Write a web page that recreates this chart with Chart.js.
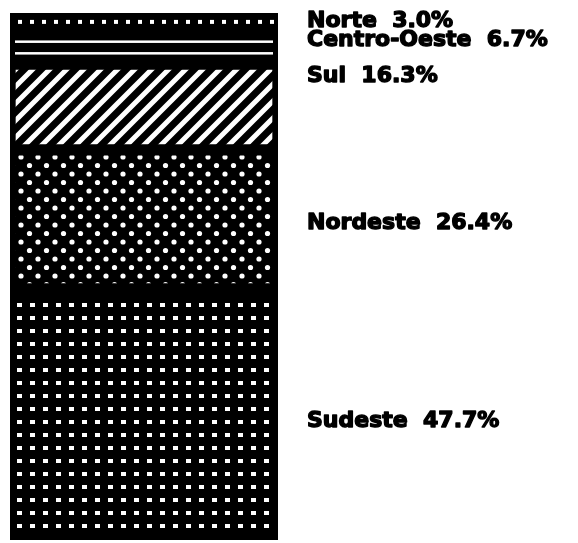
<!DOCTYPE html>
<html>
<head>
<meta charset="utf-8">
<script src="https://cdn.jsdelivr.net/npm/chart.js@4/dist/chart.umd.min.js"></script>
<style>
  body { margin: 0; background: #fff; }
  #wrap { width: 578px; height: 543px; }
</style>
</head>
<body>
<div id="wrap"><canvas id="regionChart" width="578" height="543"></canvas></div>
<script>
// regions, bottom of the stack first
const regions = ["Sudeste", "Nordeste", "Sul", "Centro-Oeste", "Norte"];
const shares = [47.7, 26.4, 16.3, 6.7, 3.0];
const shareLabels = ["47.7%", "26.4%", "16.3%", "6.7%", "3.0%"];
const categories = ["Brasil"];

function makeTile(w, h, paint) {
  const c = document.createElement("canvas");
  c.width = w;
  c.height = h;
  const g = c.getContext("2d");
  g.fillStyle = "#000";
  g.fillRect(0, 0, w, h);
  g.fillStyle = "#fff";
  g.strokeStyle = "#fff";
  paint(g);
  return c;
}

const ctx = document.getElementById("regionChart").getContext("2d");

// square grid of dots
const gridTile = makeTile(13, 13, (g) => {
  g.fillRect(4, 4, 5, 4);
});
// staggered dots
const diamondTile = makeTile(17, 17, (g) => {
  g.beginPath(); g.arc(4, 4, 2.6, 0, Math.PI * 2); g.fill();
  g.beginPath(); g.arc(12.5, 12.5, 2.6, 0, Math.PI * 2); g.fill();
});
// diagonal stripes
const stripeTile = makeTile(17, 17, (g) => {
  g.lineWidth = 5;
  g.beginPath();
  g.moveTo(-2, 19); g.lineTo(19, -2);
  g.moveTo(-9, 9); g.lineTo(9, -9);
  g.moveTo(8, 26); g.lineTo(26, 8);
  g.stroke();
});

const fills = [
  ctx.createPattern(gridTile, "repeat"),
  ctx.createPattern(diamondTile, "repeat"),
  ctx.createPattern(stripeTile, "repeat"),
  "#000",
  "#000"
];

// extra marks for the thin bands on top, drawn inside each bar element
const bandMarks = {
  id: "bandMarks",
  afterDatasetsDraw(chart) {
    const c = chart.ctx;
    c.save();
    c.fillStyle = "#fff";
    regions.forEach((name, i) => {
      const el = chart.getDatasetMeta(i).data[0];
      const top = Math.min(el.y, el.base);
      const bottom = Math.max(el.y, el.base);
      const left = el.x - el.width / 2;
      const right = el.x + el.width / 2;
      if (name === "Norte") {
        const yc = (top + bottom) / 2 + 1;
        for (let x = left + 8; x < right - 5; x += 12) {
          c.fillRect(x, yc - 2, 4, 4);
        }
      }
      if (name === "Centro-Oeste") {
        const h = bottom - top;
        c.fillRect(left + 5, top + h * 0.33, right - left - 10, 2.5);
        c.fillRect(left + 5, top + h * 0.66, right - left - 10, 2.5);
      }
    });
    c.restore();
  }
};

// labels to the right of the bar
const labelNudge = { "Norte": 0, "Centro-Oeste": -6, "Sul": -31, "Nordeste": 4, "Sudeste": 7 };
const sideLabels = {
  id: "sideLabels",
  afterDraw(chart) {
    const c = chart.ctx;
    c.save();
    c.fillStyle = "#000";
    c.strokeStyle = "#000";
    c.lineWidth = 1.4;
    c.lineJoin = "round";
    c.font = "bold 22px 'DejaVu Sans'";
    c.textBaseline = "middle";
    regions.forEach((name, i) => {
      const el = chart.getDatasetMeta(i).data[0];
      const y = (el.y + el.base) / 2 + labelNudge[name];
      const text = name + "  " + shareLabels[i];
      c.fillText(text, chart.chartArea.right + 29, y);
      c.strokeText(text, chart.chartArea.right + 29, y);
    });
    c.restore();
  }
};

new Chart(ctx, {
  type: "bar",
  data: {
    labels: categories,
    datasets: regions.map((name, i) => ({
      label: name,
      data: [shares[i]],
      backgroundColor: fills[i],
      borderColor: "#000",
      borderWidth: 6,
      borderSkipped: false,
      barPercentage: 1,
      categoryPercentage: 1
    }))
  },
  options: {
    responsive: false,
    animation: false,
    layout: { padding: { left: 10, right: 300, top: 13, bottom: 3 } },
    plugins: {
      legend: { display: false },
      tooltip: { enabled: false }
    },
    scales: {
      x: { stacked: true, display: false },
      y: {
        stacked: true,
        display: false,
        min: 0,
        max: shares.reduce((a, b) => a + b, 0)
      }
    }
  },
  plugins: [bandMarks, sideLabels]
});
</script>
</body>
</html>
